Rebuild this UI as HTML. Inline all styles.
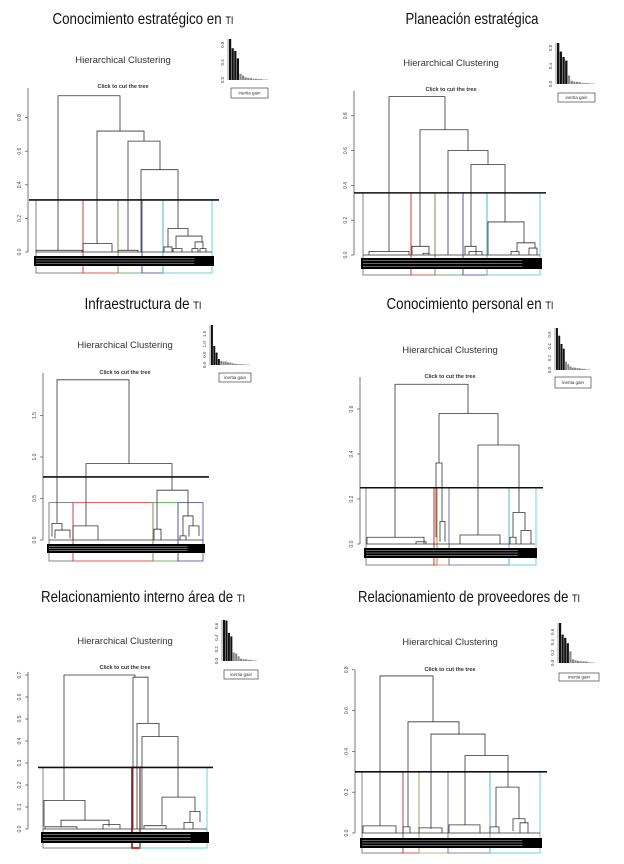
<!DOCTYPE html>
<html><head><meta charset="utf-8"><style>
html,body{margin:0;padding:0;background:#fff}
svg{display:block}
text{font-family:"Liberation Sans",sans-serif}
</style></head><body>
<svg id="fig" width="624" height="864" viewBox="0 0 624 864"></svg>
<script>
// ---- data (per panel small arrays) ----
const titles=["Conocimiento estratégico en ti","Planeación estratégica","Infraestructura de ti","Conocimiento personal en ti","Relacionamiento interno área de ti","Relacionamiento de proveedores de ti"];
const titleWidths=[181,133,117,167,204,222];
const tickValues=[[0,0.2,0.4,0.6,0.8],[0,0.2,0.4,0.6,0.8],[0,0.5,1.0,1.5],[0,0.2,0.4,0.6],[0,0.1,0.2,0.3,0.4,0.5,0.6,0.7],[0,0.2,0.4,0.6,0.8]];
const cutValues=[0.31,0.357,0.76,0.25,0.28,0.30];
// merges: [xLeft, xRight, height, leftChildHeight, rightChildHeight] (x = leaf-axis position)
const merges1=[[22,84,0.93,0.01,0.72],[61,108,0.72,0.05,0.66],[92,124,0.66,0.01,0.49],[105,142,0.49,0,0.14],[132,152,0.14,0.03,0.095],[140,166,0.095,0.02,0.06],[0,46,0.01,0,0],[47,76,0.05,0,0],[82,102,0.01,0,0],[128,136,0.03,0,0],[137,146,0.02,0,0],[159,167,0.06,0.02,0.02],[156,162,0.02,0,0],[164,170,0.02,0,0]];
const merges2=[[26,82,0.91,0.02,0.72],[57,105,0.72,0.05,0.60],[85,125,0.60,0,0.52],[108,142,0.52,0.05,0.19],[125,161,0.19,0,0.07],[154,172,0.07,0.02,0.04],[6,46,0.02,0,0],[49,66,0.05,0,0],[102,113,0.05,0,0],[106,119,0.02,0,0],[60,66,0.01,0,0],[148,156,0.02,0,0],[166,174,0.04,0,0]];
const merges3=[[8,80,1.93,0.2,0.92],[37,123,0.92,0.17,0.6],[108,139,0.6,0.13,0.29],[3,13,0.2,0.04,0.12],[6,21,0.12,0.02,0.02],[24,49,0.17,0,0],[105,112,0.13,0,0],[134,144,0.29,0.05,0.17],[140,150,0.17,0.04,0.05],[131,137,0.05,0,0]];
const merges4=[[29,102,0.71,0.03,0.58],[73,132,0.58,0.36,0.44],[70,76,0.36,0.03,0.1],[74,79,0.1,0.01,0.01],[112,153,0.44,0.04,0.14],[147,159,0.14,0.03,0.06],[1,58,0.03,0,0],[94,134,0.04,0,0],[144,150,0.03,0,0],[155,165,0.06,0,0],[50,60,0.01,0,0]];
const merges5=[[21,92,0.70,0.13,0.69],[90,105,0.69,0,0.48],[94,116,0.48,0,0.42],[99,135,0.42,0,0.145],[119,152,0.145,0.02,0.08],[147,157,0.08,0.03,0.03],[1,42,0.13,0.01,0.04],[18,66,0.04,0.01,0.01],[2,34,0.01,0,0],[60,77,0.02,0,0],[101,123,0.015,0,0],[141,150,0.03,0,0]];
const merges6=[[18,71,0.77,0.035,0.545],[46,97,0.545,0.03,0.485],[69,123,0.485,0.02,0.38],[103,146,0.38,0.04,0.225],[134,157,0.225,0.03,0.07],[151,163,0.07,0.01,0.05],[1,34,0.035,0,0],[41,48,0.03,0,0],[57,80,0.025,0,0],[87,118,0.04,0,0],[128,137,0.03,0,0],[158,166,0.05,0,0]];
const mergesAll=[merges1,merges2,merges3,merges4,merges5,merges6];
// cluster boundaries on leaf axis and colors
const clusterBreaks=[[0,47,82,106,127,176],[0,48,72,100,124,177],[0,24,104,129,154],[0,68,71,83,143,170],[0,89,97,164],[0,41,57,86,128,178]];
const clusterColors=[["#666","#d33","#4a4","#44a","#4cc"],["#666","#d33","#4a4","#44a","#4cc"],["#666","#d33","#4a4","#44a"],["#666","#c22","#c84","#66a","#4cc"],["#666","#b00","#4cc"],["#666","#c33","#aa6","#66a","#4cc"]];
const clusterTopValues=[0.31,0.357,0.45,0.25,0.28,0.30];
// inertia gain bars
const inertia1=[0.93,0.72,0.66,0.49,0.14,0.1,0.06,0.05,0.04,0.03,0.03,0.02,0.02,0.01,0.01];
const inertia2=[0.91,0.72,0.60,0.52,0.19,0.07,0.05,0.05,0.04,0.02,0.02,0.02,0.01,0.01];
const inertia3=[1.93,0.92,0.6,0.29,0.2,0.17,0.17,0.13,0.12,0.08,0.06,0.05,0.04,0.04,0.03,0.02,0.02];
const inertia4=[0.71,0.58,0.44,0.36,0.14,0.1,0.06,0.04,0.04,0.03,0.03,0.02,0.02,0.01,0.01];
const inertia5=[0.70,0.69,0.48,0.42,0.145,0.13,0.08,0.04,0.03,0.03,0.02,0.02,0.01,0.01];
const inertia6=[0.77,0.545,0.485,0.38,0.225,0.07,0.05,0.04,0.035,0.03,0.03,0.02,0.01,0.01];
const inertiaAll=[inertia1,inertia2,inertia3,inertia4,inertia5,inertia6];
const insetTicks=[[0,0.4,0.8],[0,0.4,0.8],[0,0.5,1,1.5],[0,0.2,0.4,0.6],[0,0.2,0.4,0.6],[0,0.2,0.4,0.6]];

// ---- layout (pixels) ----
const L=[
 {tx:143,ty:24,hcx:123,hcy:63,cy:88,ax:28,atop:88,y0:252,ppu:168,cx1:29,cx2:219,la:36,lw:176,b1:256,b2:266,bb:273,ix:229,iw:39,iy0:80,ih:41,bx:231,by:88,bw:37,bh:10},
 {tx:472,ty:24,hcx:451,hcy:66,cy:91,ax:354,atop:91,y0:255,ppu:174,cx1:354,cx2:546,la:363,lw:177,b1:258,b2:269,bb:275,ix:557,iw:38,iy0:84,ih:41,bx:558,by:93,bw:37,bh:9},
 {tx:143,ty:309,hcx:125,hcy:348,cy:374,ax:43,atop:373,y0:540,ppu:83,cx1:43,cx2:209,la:49,lw:154,b1:544,b2:553,bb:561,ix:211,iw:39,iy0:365,ih:40,bx:219,by:373,bw:32,bh:9},
 {tx:470,ty:309,hcx:450,hcy:353,cy:378,ax:360,atop:377,y0:544,ppu:225,cx1:360,cx2:543,la:366,lw:169,b1:548,b2:558,bb:565,ix:556,iw:34,iy0:370,ih:42,bx:555,by:377,bw:36,bh:11},
 {tx:143,ty:602,hcx:125,hcy:644,cy:669,ax:28,atop:672,y0:829,ppu:220,cx1:38,cx2:213,la:43,lw:164,b1:832,b2:843,bb:848,ix:223,iw:34,iy0:661,ih:41,bx:224,by:670,bw:34,bh:9},
 {tx:469,ty:602,hcx:450,hcy:645,cy:671,ax:355,atop:670,y0:833,ppu:204,cx1:355,cx2:547,la:362,lw:178,b1:838,b2:848,bb:853,ix:559,iw:36,iy0:663,ih:40,bx:559,by:673,bw:40,bh:8}
];
const NS="http://www.w3.org/2000/svg";
const svg=document.getElementById('fig');
function mk(tag,attrs,parent){const e=document.createElementNS(NS,tag);for(const k in attrs)e.setAttribute(k,attrs[k]);(parent||svg).appendChild(e);return e;}
function ln(g,x1,y1,x2,y2,c,w){return mk('line',{x1,y1,x2,y2,stroke:c||'#333','stroke-width':w||0.8},g);}

for(let p=0;p<6;p++){
 const l=L[p];
 const yS=v=>l.y0-v*l.ppu;
 const xS=v=>l.la+v;
 const g=mk('g',{});
 
 
 // title
 const parts=titles[p].endsWith(' ti')?[titles[p].slice(0,-2),'ti']:[titles[p],''];
 const t=mk('text',{x:l.tx,y:l.ty,'text-anchor':'middle','font-size':16,fill:'#111',textLength:titleWidths[p],lengthAdjust:'spacingAndGlyphs'},g);
 
 
 t.textContent=parts[0];
 if(parts[1]){const ts=mk('tspan',{'font-size':11},t);ts.textContent='TI';}
 const hc=mk('text',{x:l.hcx,y:l.hcy,'text-anchor':'middle','font-size':9.5,fill:'#333'},g);
 
 
 hc.textContent='Hierarchical Clustering';
 const ct=mk('text',{x:l.hcx,y:l.cy,'text-anchor':'middle','font-size':5.5,'font-weight':'bold',fill:'#333'},g);
 
 
 ct.textContent='Click to cut the tree';
 // axis
 const ax=ln(g,l.ax,l.atop,l.ax,yS(0),'#555',0.8);
 
 
 tickValues[p].forEach(v=>{
  ln(g,l.ax-3,yS(v),l.ax,yS(v),'#555',0.7);
  const tx=mk('text',{x:l.ax-7,y:yS(v),'font-size':5,fill:'#444','text-anchor':'middle',transform:`rotate(-90 ${l.ax-7} ${yS(v)})`},g);
  
  
  tx.textContent=v.toFixed(1);
 });
 // cluster boxes
 const br=clusterBreaks[p],cols=clusterColors[p];
 for(let i=0;i<br.length-1;i++){
  const r=mk('rect',{x:xS(br[i]),y:yS(clusterTopValues[p]),width:br[i+1]-br[i],height:l.bb-yS(clusterTopValues[p]),fill:'none',stroke:cols[i],'stroke-width':p===4&&i===1?1.6:0.8},g);
  
  
 }
 // merges
 mergesAll[p].forEach(m=>{
  const[xl,xr,h,hl,hr]=m;
  const e=mk('path',{d:`M${xS(xl)},${yS(hl)}V${yS(h)}H${xS(xr)}V${yS(hr)}`,fill:'none',stroke:'#333','stroke-width':0.8},g);
  
  
 });
 ln(g,l.la,yS(0),l.la+l.lw,yS(0),'#333',0.8);
 // leaf band
 const band=mk('rect',{x:l.la-2,y:l.b1,width:l.lw+4,height:l.b2-l.b1,fill:'#000'},g);
 
 
 for(let k=1;k<4;k++)ln(g,l.la,l.b1+k*(l.b2-l.b1)/4,l.la+l.lw*0.9,l.b1+k*(l.b2-l.b1)/4,'#fff',0.4);
 // cut line
 const cl=ln(g,l.cx1,yS(cutValues[p]),l.cx2,yS(cutValues[p]),'#111',1.6);
 
 
 // inset
 const ig=mk('g',{},g);
 
 
 const iv=inertiaAll[p],imax=Math.max(...iv);
 const bw=l.iw/iv.length;
 iv.forEach((v,i)=>{
  const r=mk('rect',{x:l.ix+i*bw,y:l.iy0-v/imax*l.ih,width:bw*0.85,height:v/imax*l.ih,fill:i<4?'#111':'#888'},ig);
  
  
 });
 ln(ig,l.ix-1,l.iy0-l.ih,l.ix-1,l.iy0,'#555',0.6);
 insetTicks[p].forEach(v=>{
  const yy=l.iy0-v/imax*l.ih;
  if(yy<l.iy0-l.ih-1)return;
  const tx=mk('text',{x:l.ix-5,y:yy,'font-size':4.5,fill:'#444','text-anchor':'middle',transform:`rotate(-90 ${l.ix-5} ${yy})`},ig);
  
  
  tx.textContent=v.toFixed(1);
 });
 const lb=mk('rect',{x:l.bx,y:l.by,width:l.bw,height:l.bh,fill:'#fff',stroke:'#444','stroke-width':0.7},ig);
 
 
 const lt=mk('text',{x:l.bx+l.bw/2,y:l.by+l.bh/2+1.6,'font-size':4.5,'text-anchor':'middle',fill:'#333'},ig);
 
 
 lt.textContent='inertia gain';
}
</script>
</body></html>
